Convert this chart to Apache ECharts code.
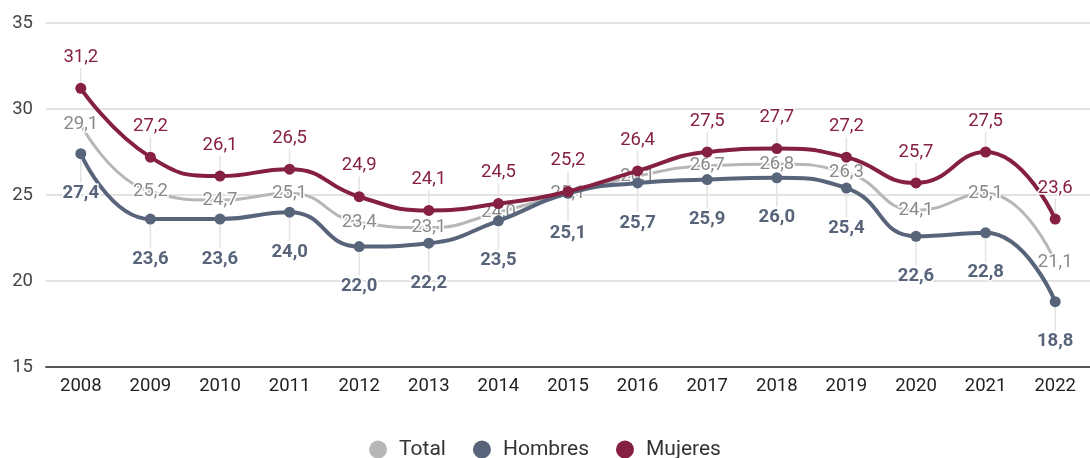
<!DOCTYPE html>
<html>
<head>
<meta charset="utf-8">
<script src="https://cdn.jsdelivr.net/npm/echarts@6/dist/echarts.min.js"></script>
<style>
  html, body { margin: 0; padding: 0; background: #fff; }
  #chart { width: 1090px; height: 458px; }
</style>
</head>
<body>
<div id="chart"></div>
<script>
var years = ['2008','2009','2010','2011','2012','2013','2014','2015','2016','2017','2018','2019','2020','2021','2022'];
var total = [29.1, 25.2, 24.7, 25.1, 23.4, 23.1, 24.0, 25.1, 26.1, 26.7, 26.8, 26.3, 24.1, 25.1, 21.1];
var hombres = [27.4, 23.6, 23.6, 24.0, 22.0, 22.2, 23.5, 25.1, 25.7, 25.9, 26.0, 25.4, 22.6, 22.8, 18.8];
var mujeres = [31.2, 27.2, 26.1, 26.5, 24.9, 24.1, 24.5, 25.2, 26.4, 27.5, 27.7, 27.2, 25.7, 27.5, 23.6];

var colTotal = '#b7b7b7', colHombres = '#58647a', colMujeres = '#862043';
var font = 'Roboto';

function coma(p) { return String(p.value.toFixed(1)).replace('.', ','); }

var myChart = echarts.init(document.getElementById('chart'));
var option = {
    animation: false,
    textStyle: { fontFamily: font },
    grid: { left: 46, right: -4, top: 23, bottom: 91, containLabel: false },
    legend: {
        top: 439,
        left: 'center',
        icon: 'circle',
        itemWidth: 18,
        itemHeight: 18,
        itemGap: 27,
        padding: 0,
        textStyle: { fontSize: 21, color: '#333', fontFamily: font, padding: [0, 0, 0, 7] },
        data: ['Total', 'Hombres', 'Mujeres']
    },
    xAxis: {
        type: 'category',
        data: years,
        boundaryGap: true,
        axisLine: { show: true, lineStyle: { color: '#555', width: 2 } },
        axisTick: { show: false },
        axisLabel: { fontSize: 18.5, color: '#222', margin: 10 }
    },
    yAxis: {
        type: 'value',
        min: 15,
        max: 35,
        interval: 5,
        axisLine: { show: false },
        axisTick: { show: false },
        axisLabel: { fontSize: 18.5, color: '#444', margin: 13 },
        splitLine: { lineStyle: { color: '#d9d9d9', width: 1.5 } }
    },
    series: [
        {
            name: 'Total',
            type: 'line',
            data: total,
            smooth: 0.5,
            symbol: 'circle',
            symbolSize: 1,
            showSymbol: true,
            z: 2,
            lineStyle: { color: colTotal, width: 3 },
            itemStyle: { color: colTotal },
            label: {
                show: true,
                position: 'inside',
                formatter: coma,
                fontSize: 18.5,
                color: '#8a8a8a',
                textBorderColor: '#fff',
                textBorderWidth: 3
            }
        },
        {
            name: 'Hombres',
            type: 'line',
            data: hombres,
            smooth: 0.5,
            symbol: 'circle',
            symbolSize: 11,
            z: 3,
            lineStyle: { color: colHombres, width: 4 },
            itemStyle: { color: colHombres },
            label: {
                show: true,
                position: 'bottom',
                distance: 0,
                formatter: coma,
                fontSize: 18.5,
                fontWeight: 'bold',
                color: colHombres,
                textBorderColor: '#fff',
                textBorderWidth: 3
            },
            labelLayout: { dy: 25 },
            labelLine: { show: true, lineStyle: { color: '#e3e3e3', width: 1.5 } }
        },
        {
            name: 'Mujeres',
            type: 'line',
            data: mujeres,
            smooth: 0.5,
            symbol: 'circle',
            symbolSize: 11,
            z: 4,
            lineStyle: { color: colMujeres, width: 4 },
            itemStyle: { color: colMujeres },
            label: {
                show: true,
                position: 'top',
                distance: 0,
                formatter: coma,
                fontSize: 18.5,
                color: colMujeres,
                textBorderColor: '#fff',
                textBorderWidth: 3
            },
            labelLayout: { dy: -16 },
            labelLine: { show: true, lineStyle: { color: '#e3e3e3', width: 1.5 } }
        }
    ]
};
myChart.setOption(option);
</script>
</body>
</html>
